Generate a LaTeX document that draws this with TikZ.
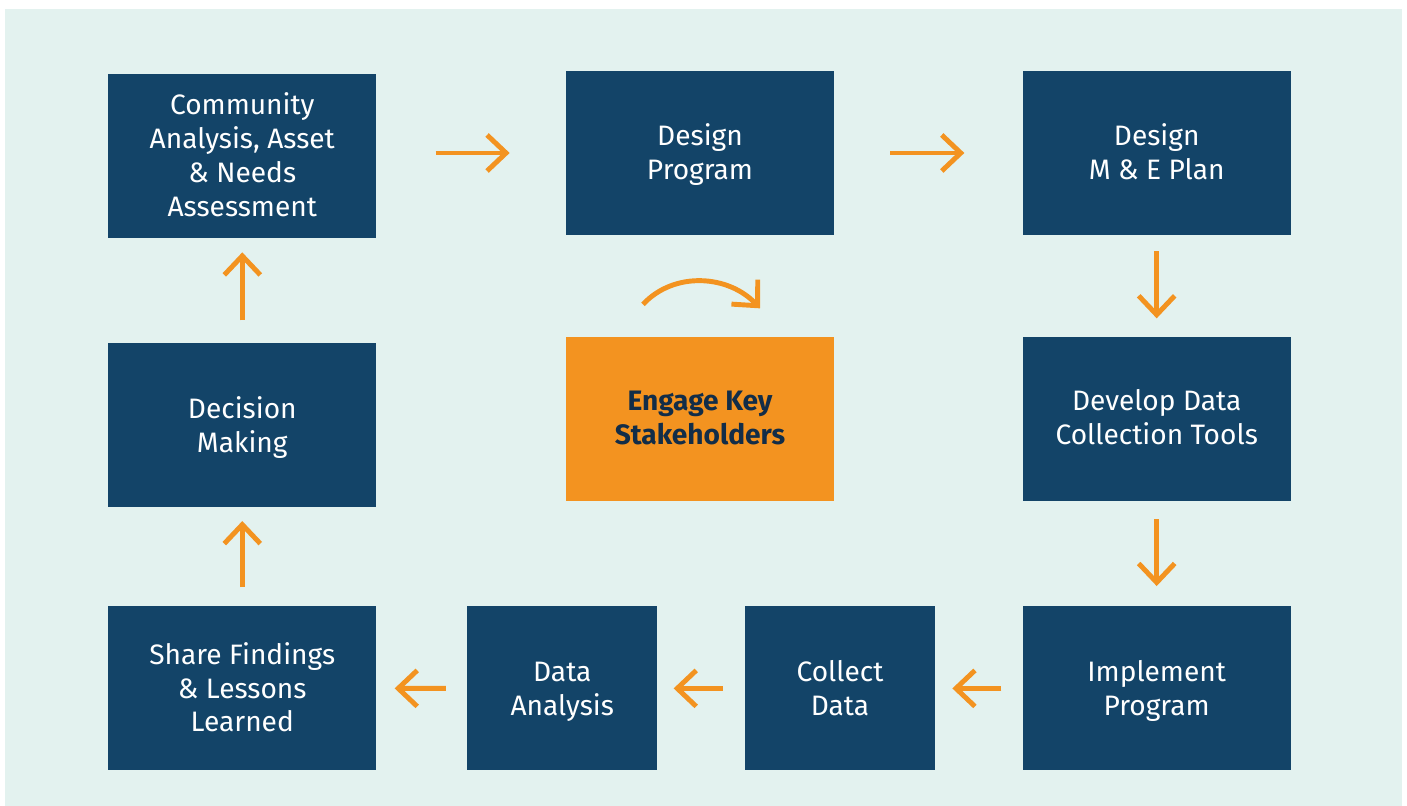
\documentclass[tikz,border=0pt]{standalone}
\usepackage{fontspec}
\setmainfont{Fira Sans}
\usetikzlibrary{arrows.meta, positioning}

\definecolor{navy}{HTML}{134468}
\definecolor{amber}{HTML}{F39320}
\definecolor{mint}{HTML}{E3F2EF}
\definecolor{ink}{HTML}{122D48}

\begin{document}
\begin{tikzpicture}[
    node distance=2.02cm and 3.76cm,
    font=\fontsize{16}{19.3}\selectfont,
    stage/.style={rectangle, fill=navy, text=white, align=center, minimum width=5.36cm, minimum height=3.28cm, inner sep=0pt, text depth=1.5pt},
    small/.style={stage, minimum width=3.8cm},
    focus/.style={stage, fill=amber, text=ink, font=\fontsize{16}{19.3}\selectfont\bfseries},
    flow/.style={-{Straight Barb[length=3.8mm, width=7.2mm]}, line width=2.8pt, draw=amber}
]

% Canvas
\path[use as bounding box] (-14.0,3.06) rectangle (14.14,-13.06);
\fill[mint] (-13.9,2.88) rectangle (14.04,-13.06);

% Top row
\node[stage] (prog) at (0,0) {Design\\Program};
\node[stage, right=of prog] (plan) {Design\\M \& E Plan};
\node[stage, left=3.78cm of prog, yshift=-0.06cm] (comm) {Community\\Analysis, Asset\\\& Needs\\Assessment};

% Middle row
\node[focus, below=of prog] (engage) {Engage Key\\Stakeholders};
\node[stage, below=of plan] (tools) {Develop Data\\Collection Tools};
\node[stage, below=2.08cm of comm, text depth=-3pt] (decide) {Decision\\Making};

% Bottom row
\node[stage, below=2.1cm of tools, text depth=-0.8pt] (impl) {Implement\\Program};
\node[small, left=1.74cm of impl, text depth=-0.8pt] (collect) {Collect\\Data};
\node[small, left=1.74cm of collect, text depth=-0.8pt] (analysis) {Data\\Analysis};
\node[stage, below=1.98cm of decide] (share) {Share Findings\\\& Lessons\\Learned};

% Cycle arrows
\draw[flow, shorten <=1.18cm, shorten >=1.12cm] (comm.east |- prog.east) -- (prog.east -| prog.west);
\draw[flow, shorten <=1.12cm, shorten >=1.16cm] (prog.east) -- (plan.west);
\draw[flow, shorten <=0.32cm, shorten >=0.36cm] (plan.south) -- (tools.north);
\draw[flow, shorten <=0.36cm, shorten >=0.40cm] (tools.south) -- (impl.north);
\draw[flow, shorten <=0.42cm, shorten >=0.34cm] (impl.west) -- (collect.east);
\draw[flow, shorten <=0.44cm, shorten >=0.32cm] (collect.west) -- (analysis.east);
\draw[flow, shorten <=0.42cm, shorten >=0.36cm] (analysis.west) -- (share.east);
\draw[flow, shorten <=0.38cm, shorten >=0.28cm] (share.north) -- (decide.south);
\draw[flow, shorten <=0.44cm, shorten >=0.28cm] (decide.north) -- (comm.south);

% Turn arrow over the stakeholder box
\coordinate[above left=0.64cm and 1.14cm of engage.north] (turn-a);
\coordinate[above right=0.56cm and 1.2cm of engage.north] (turn-b);
\draw[flow] (turn-a) to[out=47, in=133] (turn-b);

\end{tikzpicture}
\end{document}
